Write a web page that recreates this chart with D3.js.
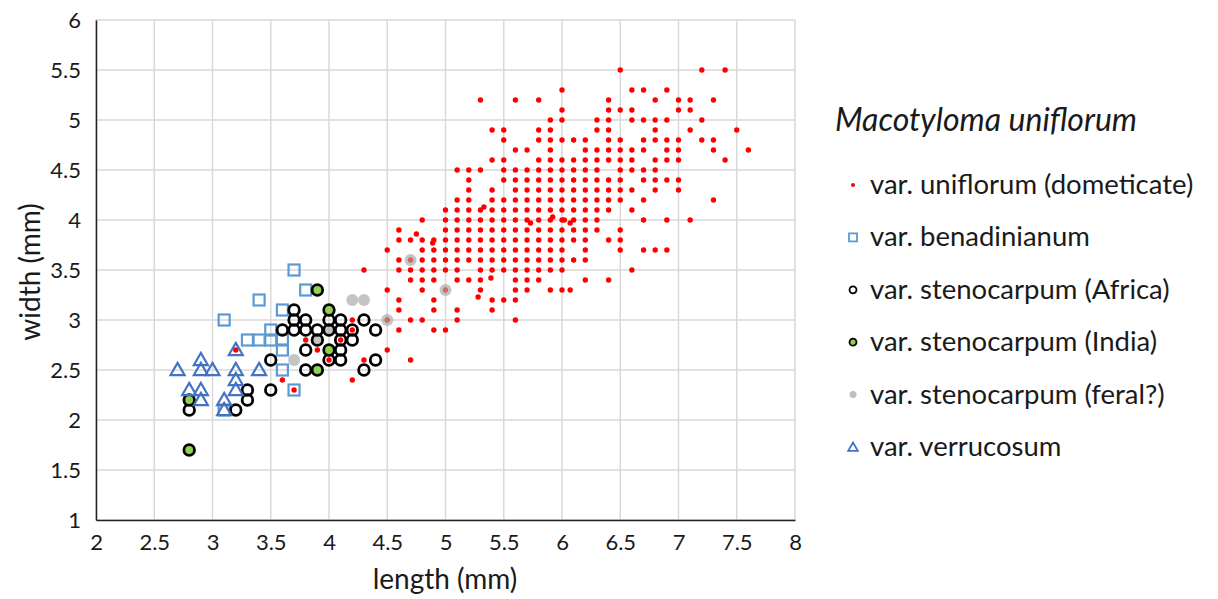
<!DOCTYPE html>
<html>
<head>
<meta charset="utf-8">
<script src="https://cdn.jsdelivr.net/npm/d3@7"></script>
<style>
body { margin: 0; background: #fff; }
text { font-family: Lato, "Open Sans", sans-serif; fill: #1a1a1a; }
</style>
</head>
<body>
<svg id="chart" width="1218" height="599"></svg>
<script>
// tick values
var xTicks = [2, 2.5, 3, 3.5, 4, 4.5, 5, 5.5, 6, 6.5, 7, 7.5, 8];
var yTicks = [1, 1.5, 2, 2.5, 3, 3.5, 4, 4.5, 5, 5.5, 6];

// var. uniflorum read row by row: [width, [lengths...]]
var uniflorumRows = [
  [5.5, [6.5, 7.2, 7.4]],
  [5.3, [6.0, 6.6, 6.7, 6.9]],
  [5.2, [5.3, 5.6, 5.8, 6.4, 6.8, 7.0, 7.1, 7.3]],
  [5.1, [6.0, 6.4, 6.5, 6.6, 7.0, 7.1]],
  [5.0, [5.9, 6.0, 6.3, 6.4, 6.6, 6.7, 6.8, 6.9, 7.2]],
  [4.9, [5.4, 5.5, 5.8, 5.9, 6.3, 6.4, 6.8, 7.1, 7.5]],
  [4.8, [5.5, 5.8, 5.9, 6.0, 6.1, 6.2, 6.4, 6.5, 6.7, 6.8, 6.9, 7.0, 7.2, 7.3]],
  [4.7, [5.6, 5.7, 5.9, 6.2, 6.3, 6.4, 6.5, 6.6, 6.7, 6.9, 7.0, 7.3, 7.6]],
  [4.6, [5.4, 5.5, 5.8, 5.9, 6.0, 6.1, 6.2, 6.3, 6.4, 6.5, 6.6, 6.8, 6.9, 7.0, 7.4]],
  [4.5, [5.1, 5.2, 5.3, 5.5, 5.6, 5.7, 5.8, 5.9, 6.0, 6.1, 6.2, 6.3, 6.5, 6.6, 6.7, 6.8]],
  [4.4, [5.2, 5.5, 5.6, 5.7, 5.8, 5.9, 6.0, 6.1, 6.2, 6.3, 6.4, 6.5, 6.7, 6.8, 6.9, 7.0]],
  [4.3, [5.2, 5.4, 5.6, 5.7, 5.8, 5.9, 6.0, 6.1, 6.2, 6.3, 6.4, 6.5, 6.6, 6.8, 7.0]],
  [4.2, [5.1, 5.2, 5.4, 5.5, 5.6, 5.7, 5.8, 5.9, 6.0, 6.1, 6.2, 6.3, 6.4, 6.5, 6.7, 7.3]],
  [4.1, [5.0, 5.1, 5.2, 5.3, 5.4, 5.5, 5.6, 5.7, 5.8, 5.9, 6.0, 6.1, 6.2, 6.3, 6.4, 6.6]],
  [4.0, [4.8, 5.0, 5.1, 5.2, 5.3, 5.4, 5.5, 5.6, 5.7, 5.8, 5.9, 6.0, 6.1, 6.2, 6.3, 6.7, 6.9, 7.1]],
  [3.9, [4.6, 5.0, 5.1, 5.2, 5.3, 5.4, 5.5, 5.6, 5.7, 5.8, 5.9, 6.0, 6.1, 6.2, 6.3, 6.5]],
  [3.8, [4.6, 4.7, 4.8, 4.9, 5.0, 5.1, 5.2, 5.3, 5.4, 5.5, 5.6, 5.7, 5.8, 5.9, 6.0, 6.1, 6.2, 6.4, 6.5]],
  [3.7, [4.5, 4.8, 4.9, 5.0, 5.1, 5.2, 5.3, 5.4, 5.5, 5.6, 5.7, 5.8, 5.9, 6.0, 6.2, 6.5, 6.7, 6.8, 6.9]],
  [3.6, [4.6, 4.7, 4.8, 4.9, 5.0, 5.1, 5.2, 5.3, 5.4, 5.5, 5.6, 5.7, 5.8, 5.9, 6.0, 6.1, 6.2]],
  [3.5, [4.3, 4.6, 4.7, 4.8, 4.9, 5.0, 5.1, 5.3, 5.4, 5.5, 5.6, 5.7, 5.8, 5.9, 6.0, 6.6]],
  [3.4, [4.7, 4.8, 4.9, 5.1, 5.2, 5.3, 5.6, 5.7, 5.8, 6.2, 6.4]],
  [3.3, [4.5, 4.8, 5.0, 5.3, 5.6, 5.7, 5.9, 6.0]],
  [3.2, [4.6, 4.9, 5.4, 5.5, 5.6]],
  [3.1, [4.6, 4.9, 5.1, 5.4]],
  [3.0, [4.2, 4.5, 4.7, 4.8, 5.1, 5.6]],
  [2.9, [4.2, 4.6, 4.9, 5.0]],
  [2.8, [3.8, 4.1]],
  [2.7, [3.2, 3.9, 4.5]],
  [2.6, [4.0, 4.3, 4.7]],
  [2.4, [3.6, 4.2]],
  [2.3, [3.7]]
];
// a few uniflorum seeds that sit off the 0.1 mm grid: [length, width]
var uniflorumExtra = [[5.33, 4.13], [5.73, 3.97], [5.92, 4.03], [6.07, 3.97], [4.89, 3.77],
  [4.75, 3.86], [5.39, 3.42], [5.28, 3.23], [6.07, 3.3], [6.02, 4.0]];

// [length, width]
var benadinianum = [[3.7, 3.5], [3.8, 3.3], [3.4, 3.2], [3.1, 3.0], [3.6, 3.1], [3.5, 2.9],
  [3.3, 2.8], [3.4, 2.8], [3.5, 2.8], [3.6, 2.8], [3.6, 2.7], [3.6, 2.5], [3.7, 2.3], [3.1, 2.1]];
var stenoAfrica = [[2.8, 2.1], [3.2, 2.1], [3.3, 2.2], [3.3, 2.3], [3.5, 2.3], [3.5, 2.6],
  [3.7, 3.1], [3.7, 3.0], [3.8, 3.0], [4.0, 3.0], [4.1, 3.0], [4.3, 3.0],
  [3.6, 2.9], [3.7, 2.9], [3.8, 2.9], [3.9, 2.9], [4.0, 2.9], [4.1, 2.9], [4.2, 2.9], [4.4, 2.9],
  [3.9, 2.8], [4.1, 2.8], [4.2, 2.8], [3.8, 2.7], [4.1, 2.7],
  [4.0, 2.6], [4.1, 2.6], [4.4, 2.6], [3.8, 2.5], [4.3, 2.5]];
var stenoIndia = [[2.8, 2.2], [2.8, 1.7], [3.9, 3.3], [4.0, 3.1], [4.0, 2.7], [3.9, 2.5]];
var stenoFeral = [[4.2, 3.2], [4.3, 3.2], [4.5, 3.0], [5.0, 3.3], [4.7, 3.6], [3.7, 2.6], [3.9, 2.8], [4.0, 2.9]];
var verrucosum = [[2.7, 2.5], [2.9, 2.6], [2.9, 2.5], [3.0, 2.5], [3.2, 2.7], [3.2, 2.5], [3.4, 2.5],
  [2.8, 2.3], [2.9, 2.3], [2.9, 2.2], [3.2, 2.4], [3.2, 2.3], [3.1, 2.2], [3.1, 2.1]];

var legendLabels = ["var. uniflorum (dometicate)", "var. benadinianum", "var. stenocarpum (Africa)",
  "var. stenocarpum (India)", "var. stenocarpum (feral?)", "var. verrucosum"];

var uniflorum = [];
uniflorumRows.forEach(function(r) {
  r[1].forEach(function(l) { uniflorum.push([l, r[0]]); });
});
uniflorum = uniflorum.concat(uniflorumExtra);

var margins = {left: 96, top: 20};
var graph = {width: 699, height: 500};

var svg = d3.select("#chart");
var target = svg.append("g")
  .attr("transform", "translate(" + margins.left + "," + margins.top + ")");

var xScale = d3.scaleLinear().domain([2, 8]).range([0, graph.width]);
var yScale = d3.scaleLinear().domain([1, 6]).range([graph.height, 0]);

// grid
target.append("g").selectAll("line").data(xTicks).enter().append("line")
  .attr("x1", d => xScale(d)).attr("x2", d => xScale(d))
  .attr("y1", 0).attr("y2", graph.height)
  .attr("stroke", "#d9d9d9").attr("stroke-width", 1.5);
target.append("g").selectAll("line").data(yTicks).enter().append("line")
  .attr("y1", d => yScale(d)).attr("y2", d => yScale(d))
  .attr("x1", 0).attr("x2", graph.width)
  .attr("stroke", "#d9d9d9").attr("stroke-width", 1.5);

// axes
var xAxis = d3.axisBottom(xScale).tickValues(xTicks).tickSize(0).tickPadding(14).tickFormat(d3.format(""));
var yAxis = d3.axisLeft(yScale).tickValues(yTicks).tickSize(0).tickPadding(15).tickFormat(d3.format(""));
var gx = target.append("g").attr("transform", "translate(0," + graph.height + ")").call(xAxis);
var gy = target.append("g").call(yAxis);
[gx, gy].forEach(function(g) {
  g.select(".domain").attr("stroke", "#222").attr("stroke-width", 1.5);
  g.selectAll("text").style("font-size", "22px").attr("fill", "#1a1a1a");
});

svg.append("text").attr("x", 445).attr("y", 589)
  .attr("text-anchor", "middle").style("font-size", "28px").text("length (mm)");
svg.append("text").attr("transform", "translate(40," + (margins.top + 252) + ") rotate(-90)")
  .attr("text-anchor", "middle").style("font-size", "28px").text("width (mm)");

// marks
var plot = target.append("g");
var px = d => xScale(d[0]), py = d => yScale(d[1]);

plot.append("g").selectAll("circle").data(uniflorum).enter().append("circle")
  .attr("cx", px).attr("cy", py).attr("r", 2.7).attr("fill", "#ff0000");

plot.append("g").selectAll("circle").data(stenoFeral).enter().append("circle")
  .attr("cx", px).attr("cy", py).attr("r", 6).attr("fill", "#a6a6a6").attr("opacity", 0.65);

plot.append("g").selectAll("rect").data(benadinianum).enter().append("rect")
  .attr("x", d => px(d) - 5.5).attr("y", d => py(d) - 5.5).attr("width", 11).attr("height", 11)
  .attr("fill", "none").attr("stroke", "#5b9bd5").attr("stroke-width", 2.2);

plot.append("g").selectAll("circle").data(stenoAfrica).enter().append("circle")
  .attr("cx", px).attr("cy", py).attr("r", 5.3).attr("fill", "none")
  .attr("stroke", "#000").attr("stroke-width", 2.8);

plot.append("g").selectAll("circle").data(stenoIndia).enter().append("circle")
  .attr("cx", px).attr("cy", py).attr("r", 5.3).attr("fill", "#92d050")
  .attr("stroke", "#000").attr("stroke-width", 2.8);

var tri = d3.symbol().type(d3.symbolTriangle).size(85);
plot.append("g").selectAll("path").data(verrucosum).enter().append("path")
  .attr("d", tri)
  .attr("transform", d => "translate(" + px(d) + "," + (py(d) + 1) + ")")
  .attr("fill", "none").attr("stroke", "#4472c4").attr("stroke-width", 2.2);

// legend
var legend = svg.append("g").attr("transform", "translate(835,0)");
legend.append("text").attr("x", 0).attr("y", 131)
  .style("font-size", "32px").style("font-style", "italic").text("Macotyloma uniflorum");

var rowY = d3.scalePoint().domain(legendLabels).range([185, 447]);
var items = legend.selectAll("g.item").data(legendLabels).enter().append("g")
  .attr("class", "item")
  .attr("transform", d => "translate(0," + rowY(d) + ")");
items.append("text").attr("x", 35).attr("y", 9).style("font-size", "27.5px").text(d => d);

var lg = legend.selectAll("g.item");
lg.filter((d, i) => i === 0).append("circle").attr("cx", 18).attr("cy", 0).attr("r", 2).attr("fill", "#ff0000");
lg.filter((d, i) => i === 1).append("rect").attr("x", 14).attr("y", -4).attr("width", 8).attr("height", 8)
  .attr("fill", "none").attr("stroke", "#5b9bd5").attr("stroke-width", 1.8);
lg.filter((d, i) => i === 2).append("circle").attr("cx", 18).attr("cy", 0).attr("r", 3.5)
  .attr("fill", "none").attr("stroke", "#000").attr("stroke-width", 1.8);
lg.filter((d, i) => i === 3).append("circle").attr("cx", 18).attr("cy", 0).attr("r", 3.5)
  .attr("fill", "#92d050").attr("stroke", "#000").attr("stroke-width", 1.8);
lg.filter((d, i) => i === 4).append("circle").attr("cx", 18).attr("cy", 0).attr("r", 3.5)
  .attr("fill", "#bfbfbf");
lg.filter((d, i) => i === 5).append("path").attr("d", d3.symbol().type(d3.symbolTriangle).size(40))
  .attr("transform", "translate(18,1)")
  .attr("fill", "none").attr("stroke", "#4472c4").attr("stroke-width", 1.8);
</script>
</body>
</html>
